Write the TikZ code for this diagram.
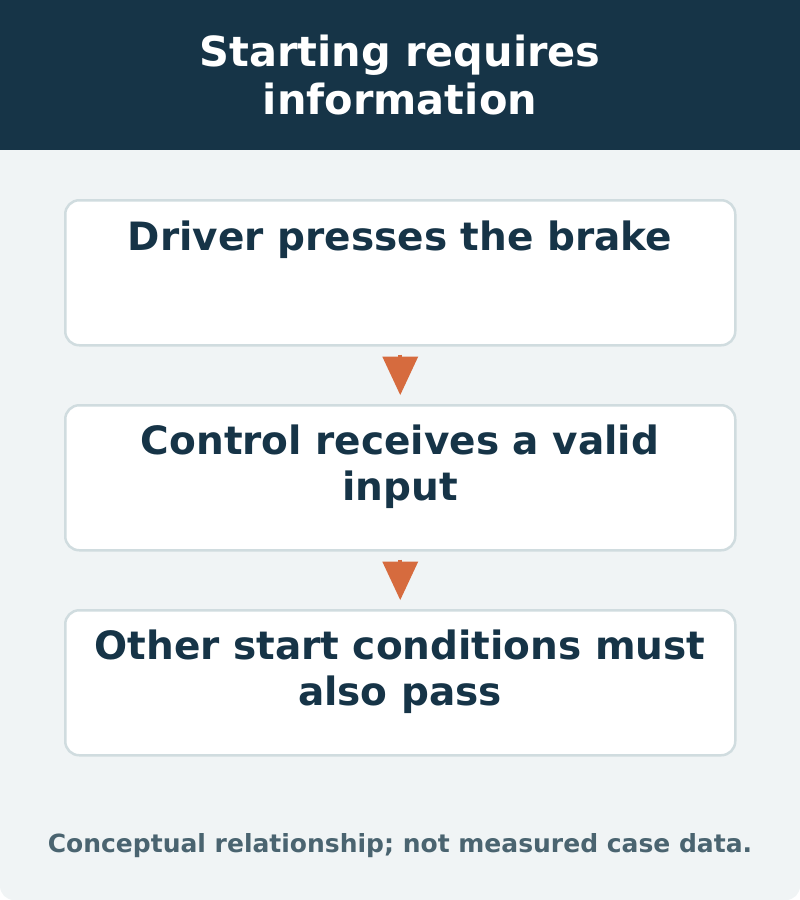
\documentclass[tikz,border=0pt]{standalone}
\usepackage{fontspec}
\setmainfont{DejaVu Sans}
\definecolor{navy}{HTML}{163447}
\definecolor{bg}{HTML}{F0F4F5}
\definecolor{bd}{HTML}{D0DCDF}
\definecolor{org}{HTML}{D66B3E}
\definecolor{foot}{HTML}{4A6470}
\begin{document}
\begin{tikzpicture}[x=1pt,y=-1pt,
  box/.style={draw=bd,line width=2.5pt,fill=white,rounded corners=14pt,minimum width=670pt,minimum height=145pt,anchor=north west,inner sep=0pt},
  txt/.style={font=\bfseries\fontsize{39}{46}\selectfont,text=navy,align=center},
  arr/.style={draw=org,fill=org}]
\useasboundingbox (0,0) rectangle (800,900);
\fill[bg,rounded corners=14pt] (0,0) rectangle (800,900);
\fill[navy] (0,0) rectangle (800,150);
\node[font=\bfseries\fontsize{41.5}{48}\selectfont,text=white,align=center] (title) at (400,75) {Starting requires\\information};
\node[box] (b1) at (64,199) {};
\node[box] (b2) at (64,404) {};
\node[box] (b3) at (64,609) {};
\node[txt] (t1) at (400,240) {Driver presses the brake};
\node[txt] (t2) at (400,467) {Control receives a valid\\input};
\node[txt] (t3) at (400,672) {Other start conditions must\\also pass};
\foreach \a/\b in {b1/b2,b2/b3}{
  \coordinate (s) at ([yshift=-8pt]\a.south);
  \coordinate (e) at ([yshift=15pt]\b.north);
  \draw[org,line width=4pt] (s) -- (e);
  \fill[org] ([xshift=-18pt,yshift=-2pt]s) -- ([xshift=18pt,yshift=-2pt]s) -- ([yshift=-6pt]e) -- cycle;
}
\node[font=\bfseries\fontsize{25}{30}\selectfont,text=foot] (f) at (400,846) {Conceptual relationship; not measured case data.};
\end{tikzpicture}
\end{document}
